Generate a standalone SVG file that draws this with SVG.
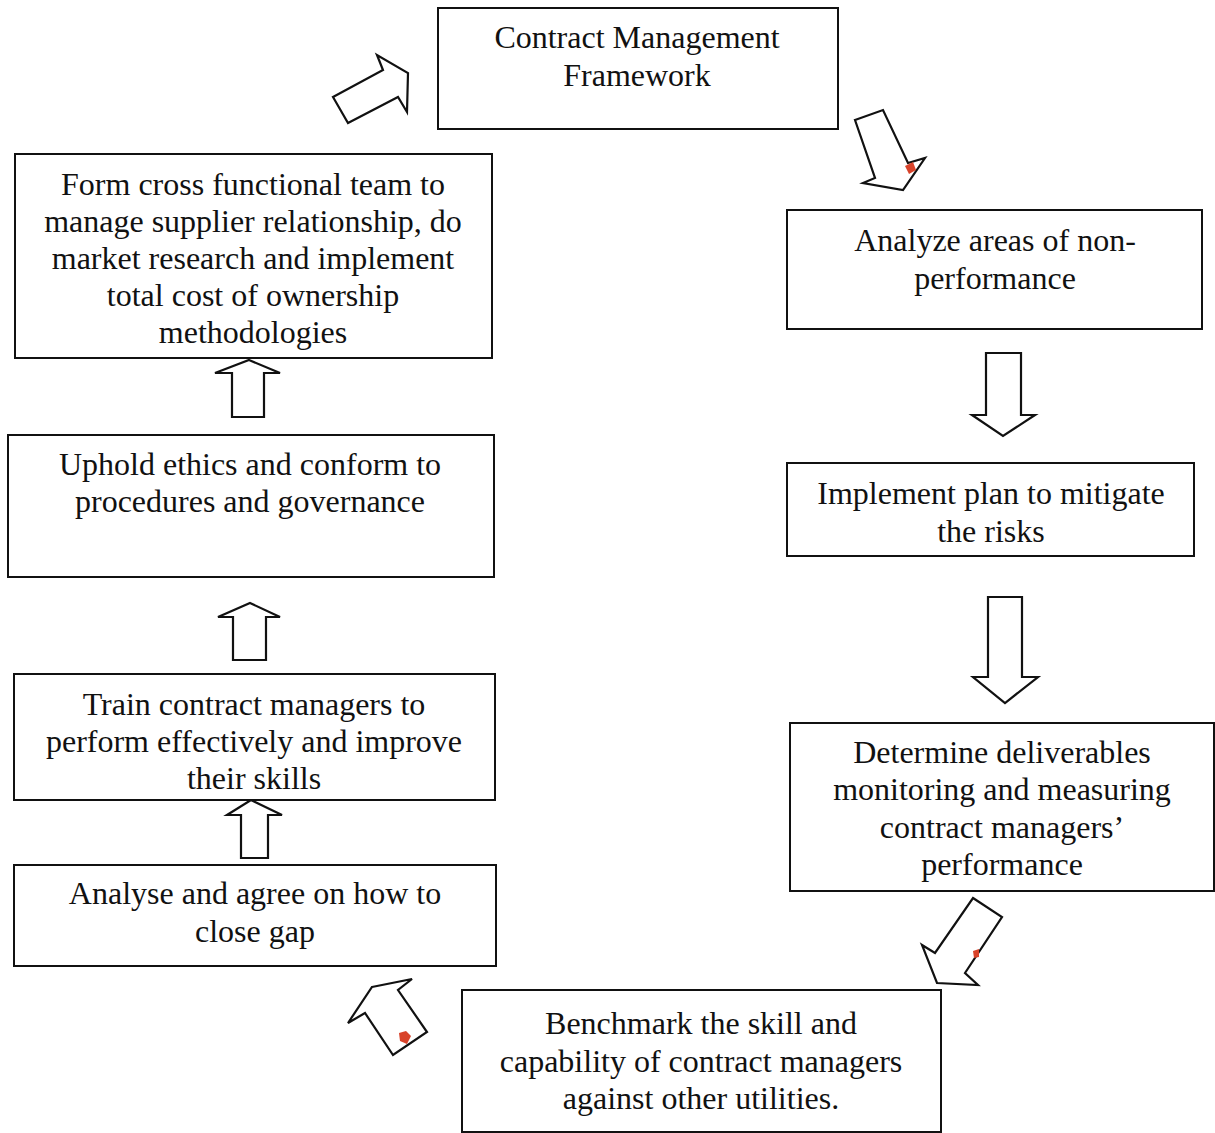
<svg xmlns="http://www.w3.org/2000/svg" width="1215" height="1133" viewBox="0 0 1215 1133">
<style>
.box{fill:#fff;stroke:#111;stroke-width:2}
.arr{fill:#fff;stroke:#111;stroke-width:2.2;stroke-linejoin:miter}
.t{font-family:"Liberation Serif","Times New Roman",serif;font-size:32px;fill:#111;text-anchor:middle}
.dot{fill:#d8432a}
</style>
<rect width="1215" height="1133" fill="#fff"/>
<g id="connectors">
<polygon class="arr" points="333,97 383,70 377,55 408,73 407,112 398,97 348,123"/>
<polygon class="arr" points="855,120 883,110 908,163 925,158 903,190 863,183 875,178"/>
<polygon class="arr" points="986,353 1021,353 1021,415 1035,415 1003,436 972,415 986,415"/>
<polygon class="arr" points="988,597 1022,597 1022,677 1038,677 1005,703 973,677 988,677"/>
<polygon class="arr" points="973,898 1002,917 965,973 978,985 937,983 922,945 935,953"/>
<polygon class="arr" points="372,987 412,979 398,990 427,1032 393,1055 365,1013 348,1023"/>
<polygon class="arr" points="249,360 280,373 264,373 264,417 232,417 232,373 215,373"/>
<polygon class="arr" points="250,603 280,617 266,617 266,660 233,660 233,617 218,617"/>
<polygon class="arr" points="251,800 282,815 268,815 268,858 241,858 241,815 227,815"/>
<path class="dot" d="M905,166 L913,162 L916,170 L909,174 Z"/>
<path class="dot" d="M973,951 L979,949 L979,957 L974,958 Z"/>
<path class="dot" d="M399,1033 L406,1031 L411,1036 L407,1044 L400,1041 Z"/>
</g>
<g id="n1">
<rect class="box" x="438" y="8" width="400" height="121"/>
<text class="t" x="637" y="48">Contract Management</text>
<text class="t" x="637" y="86">Framework</text>
</g>
<g id="n2">
<rect class="box" x="787" y="210" width="415" height="119"/>
<text class="t" x="995" y="251">Analyze areas of non-</text>
<text class="t" x="995" y="289">performance</text>
</g>
<g id="n3">
<rect class="box" x="787" y="463" width="407" height="93"/>
<text class="t" x="991" y="504">Implement plan to mitigate</text>
<text class="t" x="991" y="542">the risks</text>
</g>
<g id="n4">
<rect class="box" x="790" y="723" width="424" height="168"/>
<text class="t" x="1002" y="763">Determine deliverables</text>
<text class="t" x="1002" y="800">monitoring and measuring</text>
<text class="t" x="1002" y="838">contract managers’</text>
<text class="t" x="1002" y="875">performance</text>
</g>
<g id="n5">
<rect class="box" x="462" y="990" width="479" height="142"/>
<text class="t" x="701" y="1034">Benchmark the skill and</text>
<text class="t" x="701" y="1072">capability of contract managers</text>
<text class="t" x="701" y="1109">against other utilities.</text>
</g>
<g id="n6">
<rect class="box" x="14" y="865" width="482" height="101"/>
<text class="t" x="255" y="904">Analyse and agree on how to</text>
<text class="t" x="255" y="942">close gap</text>
</g>
<g id="n7">
<rect class="box" x="14" y="674" width="481" height="126"/>
<text class="t" x="254" y="715">Train contract managers to</text>
<text class="t" x="254" y="752">perform effectively and improve</text>
<text class="t" x="254" y="789">their skills</text>
</g>
<g id="n8">
<rect class="box" x="8" y="435" width="486" height="142"/>
<text class="t" x="250" y="475">Uphold ethics and conform to</text>
<text class="t" x="250" y="512">procedures and governance</text>
</g>
<g id="n9">
<rect class="box" x="15" y="154" width="477" height="204"/>
<text class="t" x="253" y="195">Form cross functional team to</text>
<text class="t" x="253" y="232">manage supplier relationship, do</text>
<text class="t" x="253" y="269">market research and implement</text>
<text class="t" x="253" y="306">total cost of ownership</text>
<text class="t" x="253" y="343">methodologies</text>
</g>
</svg>
